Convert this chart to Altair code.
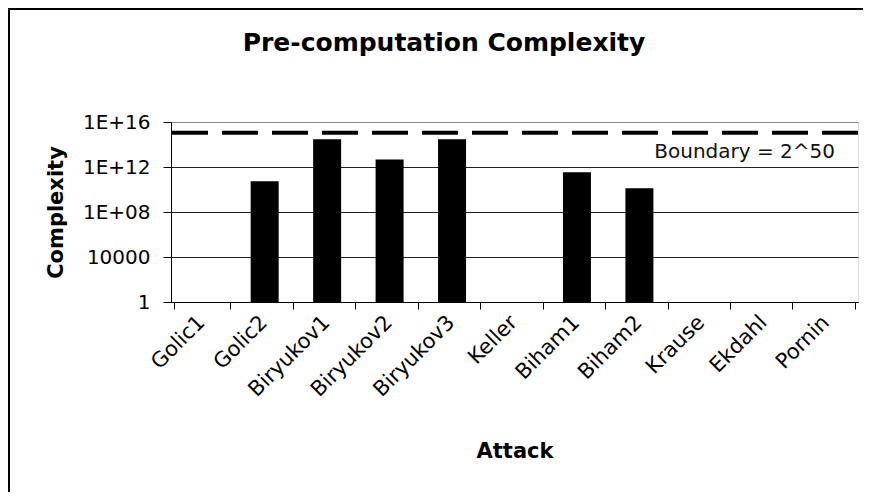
import altair as alt
import pandas as pd

attacks = ["Golic1", "Golic2", "Biryukov1", "Biryukov2", "Biryukov3", "Keller",
           "Biham1", "Biham2", "Krause", "Ekdahl", "Pornin"]
complexity = [None, 5.5e10, 2.9e14, 4.6e12, 2.9e14, None, 3.4e11, 1.3e10, None, None, None]
boundary = 2 ** 50
boundary_label = "Boundary = 2^50"
chart_title = "Pre-computation Complexity"
y_ticks = [1, 1e4, 1e8, 1e12, 1e16]

FONT = "DejaVu Sans"

bars_df = pd.DataFrame({"Attack": attacks, "Complexity": complexity})
bars_df = bars_df.dropna()
bars_df["base"] = 1

x_enc = alt.X("Attack:N", sort=attacks,
              scale=alt.Scale(domain=attacks),
              axis=alt.Axis(title="Attack", labelAngle=-45, labelAlign="right",
                            labelBaseline="middle", labelOffset=-1, labelPadding=10,
                            labelFont=FONT, labelFontSize=21, labelColor="#000",
                            tickBand="extent", tickSize=7, tickColor="#000",
                            domainColor="#000", titleFont=FONT, titleFontSize=21,
                            titleFontWeight="bold", titleColor="#000",
                            titleBaseline="middle", titleY=149))

y_scale = alt.Scale(type="log", domain=[1, 1e16], nice=False)

bars = alt.Chart(bars_df).mark_bar(color="#000000", size=28).encode(
    x=x_enc,
    y=alt.Y("Complexity:Q", scale=y_scale,
            axis=alt.Axis(title="Complexity", values=y_ticks,
                          labelExpr="datum.value < 1e5 ? format(datum.value, 'd') : '1E+' + (round(log(datum.value)/LN10) < 10 ? '0' : '') + round(log(datum.value)/LN10)",
                          labelFont=FONT, labelFontSize=20, labelColor="#000",
                          labelPadding=13, tickSize=8, tickColor="#000",
                          domainColor="#000",
                          grid=True,
                          gridColor={"condition": {"test": "datum.value >= 1e15", "value": "#8a8a8a"}, "value": "#222222"},
                          titleFont=FONT, titleFontSize=21, titleFontWeight="bold",
                          titleColor="#000", titleX=-115, titleY=90,
                          titleAngle=-90, titleAlign="center", titleBaseline="middle")),
    y2="base:Q",
)

bdf = pd.DataFrame({"b": [boundary], "label": [boundary_label]})
rule = alt.Chart(bdf).mark_rule(color="#000", strokeWidth=4, strokeDash=[36, 14]).encode(
    y=alt.Y("b:Q", scale=y_scale)
)
label = alt.Chart(bdf).mark_text(font=FONT, fontSize=20, color="#111", align="right",
                                 baseline="alphabetic", dy=25).encode(
    y=alt.Y("b:Q", scale=y_scale),
    x=alt.value(664),
    text="label:N",
)

tdf = pd.DataFrame({"t": [chart_title]})
title = alt.Chart(tdf).mark_text(font=FONT, fontSize=25, fontWeight="bold", color="#000",
                                 align="center", baseline="alphabetic").encode(
    x=alt.value(273), y=alt.value(-71), text="t:N"
)

one = alt.InlineData(values=[{"k": 1}])
frame_left = alt.Chart(one).mark_rule(color="#000", strokeWidth=2).encode(
    x=alt.value(-162), y=alt.value(-114), y2=alt.value(370)
)
frame_top = alt.Chart(one).mark_rule(color="#000", strokeWidth=2).encode(
    x=alt.value(-163), x2=alt.value(692), y=alt.value(-113)
)

chart = alt.layer(frame_left, frame_top, bars, rule, label, title).properties(
    width=687, height=180,
    autosize=alt.AutoSizeParams(type="none"),
    padding={"left": 163, "top": 114, "right": 5, "bottom": 190},
).configure_view(stroke="#8a8a8a", strokeWidth=1).configure(background="white")

chart.save("out.html", embed_options={"renderer": "svg", "actions": False})
